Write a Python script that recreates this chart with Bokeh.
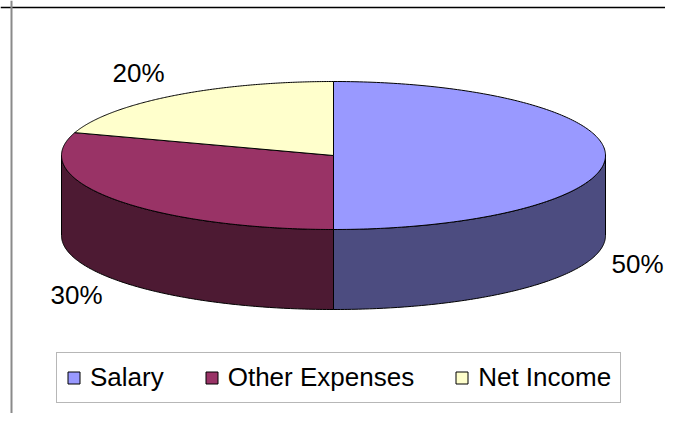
import numpy as np
from bokeh.plotting import figure
from bokeh.models import Range1d, Legend, LegendItem, Span
from bokeh.core.properties import value
from bokeh.embed import file_html
from bokeh.resources import INLINE

# ---- data ----
categories = ["Salary", "Other Expenses", "Net Income"]
values = [50, 30, 20]
top_colors = ["#9999FF", "#993366", "#FFFFCC"]
side_colors = ["#4C4C80", "#4D1A33", "#808066"]

# ---- layout (page pixel units) ----
W, H = 665, 413
CX, CY, RX, RY, DEPTH = 333, 155, 272, 74, 80
label_offsets = [(304, 108), (-257, 139), (-195, -83)]
FONT = "Liberation Sans"

p = figure(width=W, height=H, output_backend="svg", toolbar_location=None,
           x_range=Range1d(0, W), y_range=Range1d(H, 0),
           min_border=0, outline_line_color=None)
p.axis.visible = False
p.grid.visible = False

total = float(sum(values))
cum = np.concatenate([[0], np.cumsum(values)])
a_start = 90 - 360 * cum[:-1] / total
a_end = 90 - 360 * cum[1:] / total


def ell(th_deg, dy=0):
    th = np.radians(th_deg)
    return CX + RX * np.cos(th), CY - RY * np.sin(th) + dy


def front_parts(a0, a1):
    parts = []
    for hi, lo in [(360, 180), (0, -180), (-360, -540)]:
        s, e = min(a0, hi), max(a1, lo)
        if s > e:
            parts.append((s, e))
    return parts

# side walls
for i in range(len(values)):
    for s, e in front_parts(a_start[i], a_end[i]):
        th = np.linspace(s, e, 120)
        xt, yt = ell(th)
        xb, yb = ell(th[::-1], DEPTH)
        p.patch(np.concatenate([xt, xb]), np.concatenate([yt, yb]),
                fill_color=side_colors[i], line_color="black", line_width=1)

# top faces
tops = []
for i in range(len(values)):
    th = np.linspace(a_start[i], a_end[i], 200)
    xt, yt = ell(th)
    r = p.patch(np.concatenate([[CX], xt, [CX]]), np.concatenate([[CY], yt, [CY]]),
                fill_color=top_colors[i], line_color="black", line_width=1)
    tops.append(r)

# percentage labels
lx = [CX + dx for dx, dy in label_offsets]
ly = [CY + dy for dx, dy in label_offsets]
txt = [f"{round(100 * v / total)}%" for v in values]
p.text(x=lx, y=ly, text=txt, text_font=value(FONT), text_font_size="26px",
       text_align="center", text_baseline="middle", text_color="black")

# chart-area border (top and left visible)
p.add_layout(Span(location=7, dimension="width", line_color="black", line_width=1.5))
p.add_layout(Span(location=11, dimension="height", line_color="#8a8a8a", line_width=2))

legend = Legend(items=[LegendItem(label=c, renderers=[r]) for c, r in zip(categories, tops)],
                orientation="horizontal", location=(56, 10),
                label_text_font=FONT, label_text_font_size="26px",
                label_text_color="black",
                glyph_width=15, glyph_height=15, label_standoff=9, spacing=40,
                padding=9, margin=0, border_line_color="#707070", border_line_width=1,
                background_fill_color="white", background_fill_alpha=1.0)
p.add_layout(legend)

open("out.html", "w").write(file_html(p, INLINE))
